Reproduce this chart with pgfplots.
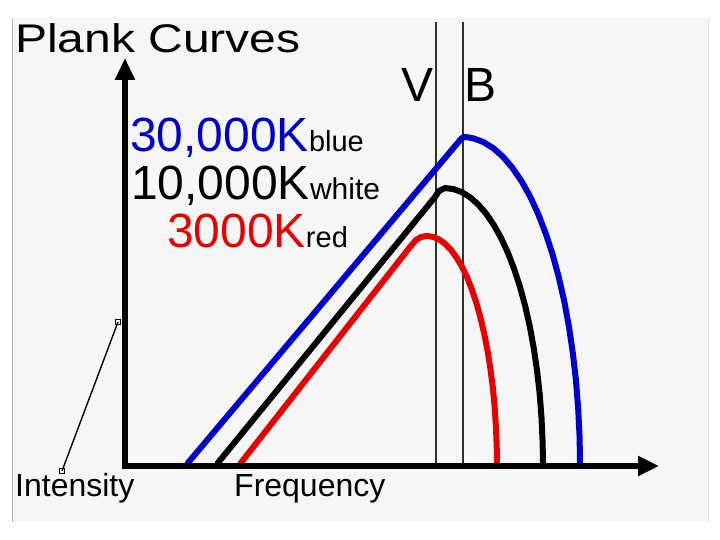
\documentclass[border=0pt]{standalone}
\usepackage{fontspec}
\setmainfont{Liberation Sans}
\usepackage{graphicx}
\usepackage{pgfplots}
\pgfplotsset{compat=1.18}
\usetikzlibrary{arrows.meta}
\definecolor{pblue}{RGB}{0,0,205}
\definecolor{pred}{RGB}{232,0,0}
\definecolor{panel}{RGB}{246,246,246}
\definecolor{vline}{RGB}{48,48,48}
\begin{document}
\begin{tikzpicture}
\begin{axis}[
  scale only axis, width=720pt, height=540pt,
  xmin=0, xmax=720, ymin=-74, ymax=466,
  hide axis, clip=false,
]
% background
\addplot[fill=white, draw=none] coordinates {(0,-74) (720,-74) (720,466) (0,466)} -- cycle;
\addplot[fill=panel, draw=none] coordinates {(12,-56) (708,-56) (708,448) (12,448)} -- cycle;
\addplot[draw={rgb,255:red,180;green,180;blue,180}, line width=1pt] coordinates {(12,-56) (12,448)};
\addplot[draw={rgb,255:red,222;green,222;blue,222}, line width=1pt] coordinates {(708,-56) (708,448)};

% V and B lines
\addplot[vline, line width=2pt] coordinates {(436,0) (436,444)};
\addplot[vline, line width=2pt] coordinates {(463,0) (463,444)};

% curves
\addplot[pblue, line width=6pt, line join=round] coordinates {
 (187,2) (461,327) (463,328.5) (466,329) (473.2,327.7) (483.3,324.0) (493.3,317.8) (503.0,309.2)
 (512.4,298.2) (521.5,284.9) (530.1,269.5) (538.2,252.0) (545.7,232.6)
 (552.6,211.5) (558.8,188.7) (564.3,164.5) (569.0,139.0) (572.9,112.5)
 (576.0,85.1) (578.2,57.1) (579.6,28.7) (580,3)};
\addplot[black, line width=6pt, line join=round] coordinates {
 (217,2) (435,269) (439,275) (445,278) (453.5,276.9) (462.0,273.8) (470.4,268.5)
 (478.5,261.2) (486.4,252.0) (494.0,240.7) (501.2,227.7) (508.0,213.0)
 (514.3,196.6) (520.1,178.7) (525.3,159.5) (529.9,139.0) (533.8,117.5)
 (537.1,95.1) (539.7,71.9) (541.5,48.3) (542.6,24.2) (543,3)};
\addplot[pred, line width=6pt, line join=round] coordinates {
 (240,2) (410,219) (416,226) (421,229) (427,230) (433.1,229.1) (439.2,226.5)
 (445.1,222.2) (450.9,216.1) (456.6,208.4) (462.0,199.2) (467.2,188.4)
 (472.0,176.2) (476.5,162.6) (480.6,147.8) (484.3,131.9) (487.6,115.0)
 (490.4,97.2) (492.8,78.7) (494.6,59.5) (495.9,39.9) (496.7,20.0) (497,3)};

% axes
\addplot[black, line width=6pt, -{Triangle[length=22pt,width=19pt]}] coordinates {(125,-3) (125,408)};
\addplot[black, line width=6pt, -{Triangle[length=21pt,width=19pt]}] coordinates {(122,0) (659,0)};

% intensity pointer
\addplot[black, line width=1.4pt, mark=square, mark size=2.4pt, mark options={fill=white,line width=1pt}] coordinates {(62,-5) (118,144)};

% texts
\node[anchor=base west, inner sep=0] at (axis cs:15,413) {\scalebox{1.2}[1]{\fontsize{40}{44}\selectfont Plank Curves}};
\node[anchor=base west, inner sep=0, text=pblue] at (axis cs:130,314) {\fontsize{48}{50}\selectfont 30,000K\fontsize{29}{30}\selectfont \textcolor{black}{blue}};
\node[anchor=base west, inner sep=0] at (axis cs:131,266) {\fontsize{48}{50}\selectfont 10,000K\fontsize{30}{32}\selectfont white};
\node[anchor=base west, inner sep=0, text=pred] at (axis cs:167,218) {\fontsize{48}{50}\selectfont 3000K\fontsize{29}{30}\selectfont \textcolor{black}{red}};
\node[anchor=base west, inner sep=0] at (axis cs:401,364) {\fontsize{48}{50}\selectfont V};
\node[anchor=base west, inner sep=0] at (axis cs:464,364) {\fontsize{48}{50}\selectfont B};
\node[anchor=base west, inner sep=0] at (axis cs:15,-31) {\fontsize{32}{34}\selectfont Intensity};
\node[anchor=base west, inner sep=0] at (axis cs:234,-31) {\fontsize{32}{34}\selectfont Frequency};
\end{axis}
\end{tikzpicture}
\end{document}
